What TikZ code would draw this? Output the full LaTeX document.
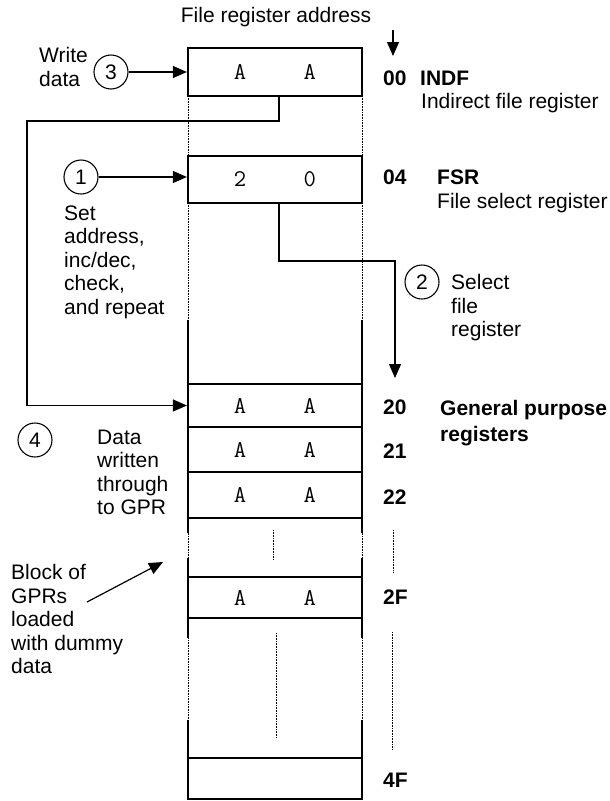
\documentclass[tikz,border=0pt]{standalone}
\usepackage{fontspec}
\setmainfont{Liberation Sans}
\usetikzlibrary{arrows.meta}

\tikzset{
  txt/.style={font=\fontsize{21}{23.5}\selectfont, align=left, anchor=north west, inner sep=0pt},
  lbl/.style={font=\fontsize{21}{23.5}\selectfont, anchor=base west, inner sep=0pt},
  addr/.style={lbl, font=\fontsize{21}{23.5}\selectfont\bfseries},
  reg/.style={draw, line width=2.2pt, minimum width=174pt, inner sep=0pt, font=\fontsize{24}{24}\selectfont\ttfamily},
  num/.style={draw, circle, line width=1.1pt, minimum size=34pt, inner sep=0pt, font=\fontsize{21}{21}\selectfont},
  arr/.style={line width=1.2pt, -{Triangle[length=14pt,width=12pt]}},
  side/.style={line width=2.2pt},
  dots/.style={densely dotted, line width=0.6pt}
}

\begin{document}
\begin{tikzpicture}[x=1pt, y=-1pt]
	\useasboundingbox (0,0) rectangle (610,801);
	% memory column
	\foreach \x in {188,362}{
	\draw [dots] (\x,96) -- (\x,799);
	\draw [side] (\x,320) -- (\x,533);
	\draw [side] (\x,558) -- (\x,638);
	\draw [side] (\x,720) -- (\x,799);
	}
	\foreach \x/\a/\b in {273/530/559, 276/633/738, 393/530/573, 392/632/750}{
	\draw [dots] (\x,\a) -- (\x,\b);
	}
	\node [reg, minimum height=48pt] (indf) at (275,72) {A\hspace{57.4pt}A};
	\node [reg, minimum height=47pt] (fsr) at (275,179.5) {2\hspace{57.4pt}0};
	\node [reg, minimum height=43pt] (r20) at (275,405.5) {A\hspace{57.4pt}A};
	\node [reg, minimum height=45pt] (r21) at (275,449.5) {A\hspace{57.4pt}A};
	\node [reg, minimum height=46pt] (r22) at (275,495) {A\hspace{57.4pt}A};
	\node [reg, minimum height=41pt] (r2F) at (275,597.5) {A\hspace{57.4pt}A};
	\node [reg, minimum height=41pt] (r4F) at (275,778.5) {};
	% addresses and names
	\node [lbl, anchor=base] (head) at (276,22.5) {File register address};
	\node [addr] (l00) at (383,85) {00};
	\node [addr] (nindf) at (420,85) {INDF};
	\node [lbl] (dindf) at (421,108) {Indirect file register};
	\node [addr] (l04) at (383,184.5) {04};
	\node [addr] (nfsr) at (437,184.5) {FSR};
	\node [lbl] (dfsr) at (437,208.5) {File select register};
	\foreach \n/\y in {20/414.5,21/458.5,22/504.5,2F/604.5,4F/787.5}{
	\node [addr] (l\n) at (383,\y) {\n};
	}
	\node [txt, font=\fontsize{21}{26}\selectfont\bfseries] (ngpr) at (440,400.5) {General purpose\\registers};
	% steps
	\node [num] (c3) at (111,72) {3};
	\node [txt] (twrite) at (39,47.5) {Write\\data};
	\node [num] (c1) at (81,177) {1};
	\node [txt] (tset) at (64,205.5) {Set\\address,\\inc/dec,\\check,\\and repeat};
	\node [num] (c2) at (422,282) {2};
	\node [txt] (tsel) at (451,274.5) {Select\\file\\register};
	\node [num] (c4) at (35,440) {4};
	\node [txt] (tdata) at (97,429.5) {Data\\written\\through\\to GPR};
	\node [txt] (tblock) at (11,564.5) {Block of\\GPRs\\loaded\\with dummy\\data};
	% arrows
	\coordinate (atop) at (393,30);
	\coordinate (atip) at (393,56);
	\coordinate (loop) at (27,121);
	\coordinate (sel) at (395,261);
	\coordinate (seltip) at (395,378);
	\coordinate (bstart) at (87,602);
	\coordinate (btip) at (163,562);
	\draw [arr] (atop) -- (atip);
	\draw [arr] (c3) -- (c3 -| indf.west);
	\draw [arr] (c1) -- (c1 -| fsr.west);
	\draw [arr] ([xshift=4pt]indf.south) |- (loop) |- (r20.west);
	\draw [arr] ([xshift=4pt]fsr.south) |- (sel) -- (seltip);
	\draw [arr] (bstart) -- (btip);
\end{tikzpicture}
\end{document}
